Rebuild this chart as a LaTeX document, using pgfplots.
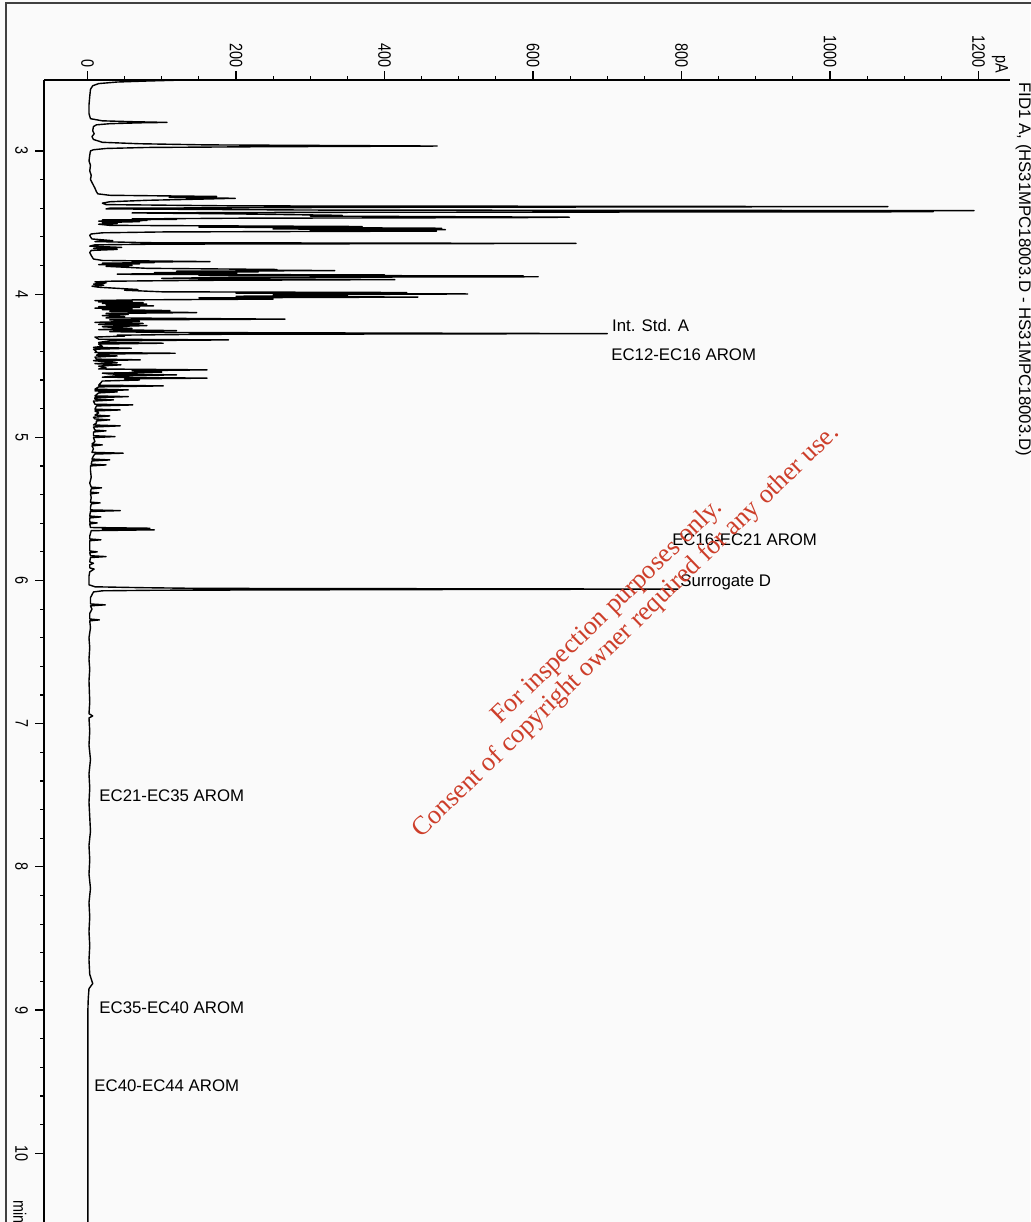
\documentclass[border=0pt]{standalone}
\usepackage{fontspec}
\setmainfont{Liberation Sans}
\newfontfamily\tickfont[FakeStretch=0.8]{Liberation Sans}
\newfontfamily\wmfont{Liberation Serif}
\usepackage{pgfplots}
\pgfplotsset{compat=1.18}
\definecolor{bg}{HTML}{FAFAFA}
\definecolor{wmred}{RGB}{205,62,42}
\newcommand{\lab}{\fontsize{8.4}{10}\selectfont}
\newcommand{\tck}{\tickfont\fontsize{9}{10}\selectfont}
\begin{document}
\begin{tikzpicture}
\useasboundingbox (0,0) rectangle (515pt,-611pt);
\fill[bg] (0,0) rectangle (515pt,-611pt);
\draw[black!75, line width=0.8pt] (3pt,-612pt) -- (3pt,-1.5pt) -- (516pt,-1.5pt);
\begin{axis}[
  at={(22pt,-611pt)}, anchor=south west,
  scale only axis, width=483pt, height=571pt,
  xmin=-58.6, xmax=1242.4, ymin=2.505, ymax=10.48,
  y dir=reverse,
  axis x line*=top, axis y line*=left,
  axis line style={line width=0.9pt},
  tick align=outside,
  major tick length=4.5pt, minor tick length=1.8pt,
  tick style={line width=0.6pt, black},
  xtick={0,200,...,1200}, minor x tick num=3,
  ytick={3,4,...,10}, minor y tick num=4,
  /pgf/number format/assume math mode=true,
  /pgf/number format/1000 sep={},
  xticklabel style={font=\tck, yshift=-2pt, rotate=-90, anchor=east},
  yticklabel style={font=\tck, rotate=-90, anchor=north},
]
\addplot[black, line width=0.7pt, line join=round] coordinates {
(130,2.505) (80,2.512) (40,2.519) (15,2.530) (7,2.545) (4,2.570) (3,2.620) (2,2.680) (2,2.740) (4,2.775)
(20,2.790) (60,2.796) (107,2.801) (70,2.804) (30,2.810) (12,2.818) (8,2.830) (7,2.860) (9,2.880) (6,2.900) (8,2.920)
(20,2.940) (70,2.950) (160,2.958) (471,2.966) (230,2.971) (80,2.976) (25,2.983) (8,2.992) (4,3.000)
(3,3.030) (2,3.070) (4,3.100) (3,3.140) (5,3.170) (4,3.200) (7,3.230) (10,3.260) (12,3.285) (14,3.300)
(30,3.310) (174,3.318) (110,3.324) (199,3.331) (150,3.337) (80,3.345) (30,3.355) (20,3.365) (25,3.375)
(200,3.384) (1078,3.389) (400,3.394) (30,3.400) (25,3.405)
(300,3.413) (1194,3.417) (600,3.421) (1139,3.425) (300,3.429) (60,3.433)
(200,3.440) (343,3.450) (300,3.455) (649,3.463) (580,3.466) (200,3.470) (60,3.475)
(120,3.478) (20,3.482) (80,3.486) (15,3.490) (70,3.494) (20,3.500) (40,3.506) (15,3.512)
(30,3.520) (370,3.528) (150,3.532) (477,3.540) (250,3.545) (482,3.550) (300,3.555) (470,3.560) (100,3.566) (20,3.572)
(5,3.580) (3,3.590) (4,3.600) (6,3.615) (34,3.627) (10,3.633)
(80,3.641) (658,3.646) (100,3.651) (10,3.656)
(3,3.665) (46,3.674) (8,3.680) (40,3.688) (5,3.695) (3,3.710) (5,3.730) (8,3.755) (20,3.765)
(165,3.773) (60,3.776) (90,3.780) (20,3.784) (70,3.789) (15,3.794) (60,3.800) (25,3.806) (80,3.820)
(255,3.828) (200,3.831) (333,3.836) (120,3.840) (230,3.845) (90,3.850) (201,3.854) (40,3.860)
(60,3.862) (400,3.866) (150,3.869) (587,3.873) (300,3.876) (607,3.879) (200,3.883)
(100,3.890) (414,3.899) (150,3.904) (30,3.910)
(10,3.915) (25,3.922) (8,3.930) (22,3.937) (6,3.945) (15,3.952) (48,3.962) (68,3.968) (50,3.973)
(100,3.984) (430,3.989) (200,3.993) (512,3.999) (250,4.005) (350,4.010) (200,4.015) (445,4.021) (150,4.026) (250,4.035) (70,4.040)
(10,4.045) (60,4.050) (15,4.055) (75,4.060) (20,4.065) (80,4.070) (25,4.075) (89,4.082) (15,4.088) (70,4.093) (10,4.098) (60,4.103) (20,4.108) (111,4.115) (30,4.120) (147,4.129) (25,4.135)
(55,4.142) (20,4.150) (50,4.158) (25,4.166) (266,4.175) (30,4.180)
(70,4.190) (10,4.197) (75,4.205) (15,4.212) (80,4.220) (20,4.228) (60,4.240) (15,4.248) (120,4.255) (30,4.262)
(100,4.268) (700,4.276) (150,4.281) (40,4.287) (50,4.293) (10,4.300)
(15,4.315) (190,4.320) (30,4.326)
(15,4.338) (102,4.343) (15,4.349)
(20,4.365) (8,4.372) (59,4.378) (8,4.385)
(12,4.400) (10,4.408) (118,4.413) (15,4.419)
(12,4.427) (40,4.432) (10,4.440)
(12,4.454) (71,4.459) (8,4.465)
(40,4.478) (10,4.486) (45,4.494) (15,4.503)
(25,4.515) (15,4.523) (161,4.529) (60,4.535) (100,4.545) (20,4.552)
(30,4.558) (120,4.564) (40,4.570) (20,4.580) (161,4.587) (50,4.592) (70,4.600) (20,4.607)
(15,4.636) (102,4.641) (15,4.648)
(10,4.664) (55,4.669) (10,4.676) (40,4.683) (15,4.690)
(10,4.711) (55,4.716) (10,4.723)
(10,4.734) (35,4.739) (8,4.747)
(10,4.769) (61,4.774) (12,4.781)
(10,4.804) (44,4.809) (10,4.816)
(15,4.830) (10,4.845) (30,4.851) (8,4.860)
(10,4.872) (30,4.878) (12,4.886)
(12,4.900) (8,4.914) (44,4.920) (8,4.928)
(10,4.950) (25,4.955) (8,4.963)
(8,4.989) (37,4.995) (8,5.002)
(10,5.030) (6,5.047) (20,5.053) (6,5.060)
(8,5.080) (6,5.105) (48,5.111) (10,5.117)
(8,5.130) (6,5.152) (30,5.158) (6,5.165)
(5,5.188) (25,5.193) (4,5.200)
(4,5.230) (5,5.280) (3,5.320)
(5,5.348) (19,5.353) (5,5.360)
(4,5.383) (15,5.388) (4,5.395)
(5,5.420) (4,5.453) (17,5.458) (5,5.465)
(4,5.490) (4,5.507) (44,5.512) (4,5.518)
(3,5.550) (18,5.556) (3,5.563)
(3,5.592) (13,5.598) (3,5.605)
(4,5.630) (84,5.635) (20,5.640) (90,5.646) (5,5.652)
(3,5.690) (3,5.710) (18,5.716) (3,5.722)
(3,5.760) (3,5.794) (13,5.800) (3,5.806)
(4,5.827) (25,5.833) (4,5.840)
(3,5.870) (8,5.880) (3,5.890) (3,5.912) (9,5.920) (3,5.940)
(2,5.970) (2,6.030) (10,6.044) (71,6.050) (150,6.055) (795,6.060) (400,6.064) (92,6.068) (20,6.072) (8,6.080)
(4,6.120) (4,6.164) (24,6.170) (4,6.177) (6,6.200) (3,6.230)
(3,6.269) (16,6.275) (3,6.282)
(4,6.330) (2,6.400) (3,6.470) (2,6.550) (3,6.620) (2,6.700) (3,6.850) (2,6.930) (7,6.946) (2,6.960) (3,7.050) (2,7.150) (4,7.250) (2,7.350) (3,7.450) (2,7.550) (3,7.650) (4,7.750) (2,7.850) (3,7.950) (2,8.050) (4,8.150) (2,8.250) (3,8.350) (2,8.450) (3,8.550) (2,8.650) (3,8.750) (7,8.815) (2,8.850) (1,8.920) (0.5,9.000) (0.5,10.480)
};
\node[anchor=base west, font=\lab, inner sep=0pt] at (axis cs:706,4.264) {Int. Std. A};
\node[anchor=base west, font=\lab, inner sep=0pt] at (axis cs:705,4.466) {EC12-EC16 AROM};
\node[anchor=base west, font=\lab, inner sep=0pt] at (axis cs:787,5.758) {EC16-EC21 AROM};
\node[anchor=base west, font=\lab, inner sep=0pt] at (axis cs:798,6.045) {Surrogate D};
\node[anchor=base west, font=\lab, inner sep=0pt] at (axis cs:15.5,7.546) {EC21-EC35 AROM};
\node[anchor=base west, font=\lab, inner sep=0pt] at (axis cs:15.5,9.027) {EC35-EC40 AROM};
\node[anchor=base west, font=\lab, inner sep=0pt] at (axis cs:8.8,9.571) {EC40-EC44 AROM};
\end{axis}
\node[rotate=-90, anchor=east, inner sep=0pt, font=\tck] at (500pt,-37pt) {pA};
\node[rotate=-90, anchor=west, inner sep=0pt, font=\tck] at (10pt,-600pt) {min};
\node[rotate=-90, anchor=base west, inner sep=0pt, font=\lab] at (509.5pt,-41pt) {FID1 A, (HS31MPC18003.D - HS31MPC18003.D)};
\node[rotate=44, text=wmred, font=\wmfont\fontsize{13.2}{13.6}\selectfont, align=center, inner sep=0pt] at (308.5pt,-311pt) {For inspection purposes only.\\Consent of copyright owner required for any other use.};
\end{tikzpicture}
\end{document}
